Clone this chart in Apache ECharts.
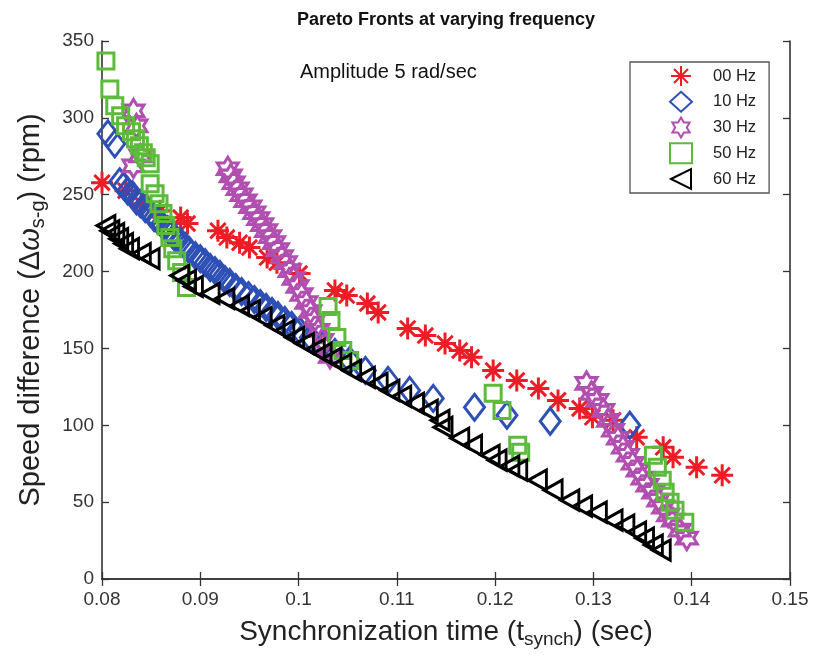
<!DOCTYPE html>
<html>
<head>
<meta charset="utf-8">
<script src="https://cdn.jsdelivr.net/npm/echarts@6/dist/echarts.min.js"></script>
<style>
html,body{margin:0;padding:0;background:#fff;}
#chart{width:813px;height:659px;}
</style>
</head>
<body>
<div id="chart"></div>
<script>
// ---- data (x = sync time in sec, y = speed difference in rpm) ----
const xTicks = [0.08, 0.09, 0.1, 0.11, 0.12, 0.13, 0.14, 0.15];
const yTicks = [0, 50, 100, 150, 200, 250, 300, 350];
const seriesNames = ['00 Hz', '10 Hz', '30 Hz', '50 Hz', '60 Hz'];

const hz00 = [
  [0.0797,290.3],[0.0800,257.8],[0.0824,252.6],[0.0840,244.2],[0.0859,239.6],[0.0880,235.1],
  [0.0887,231.2],[0.0918,226.6],[0.0927,222.1],[0.0940,218.8],[0.0950,215.6],[0.0968,209.1],
  [0.0978,205.8],[0.1001,198.7],[0.1037,187.7],[0.1049,184.4],[0.1070,179.2],[0.1081,173.4],
  [0.1111,163.0],[0.1129,158.4],[0.1149,153.2],[0.1164,148.7],[0.1176,144.2],[0.1198,135.7],
  [0.1222,129.2],[0.1244,124.0],[0.1264,116.2],[0.1286,111.0],[0.1299,105.2],[0.1320,103.2],
  [0.1344,92.2],[0.1371,85.7],[0.1381,79.2],[0.1405,72.7],[0.1431,67.5]
];
const hz10 = [
  [0.0806,289.6],[0.0813,283.1],[0.0818,258.4],[0.0822,255.8],[0.0826,252.6],[0.0831,250.0],
  [0.0835,246.1],[0.0839,244.2],[0.0844,240.9],[0.0849,238.3],[0.0853,235.1],[0.0857,233.1],
  [0.0862,229.9],[0.0867,227.3],[0.0871,224.7],[0.0875,221.4],[0.0880,219.5],[0.0885,216.2],
  [0.0889,213.6],[0.0895,210.4],[0.0900,208.4],[0.0905,205.8],[0.0910,202.6],[0.0915,200.6],
  [0.0920,198.1],[0.0925,194.8],[0.0930,192.9],[0.0936,189.6],[0.0942,187.0],[0.0949,184.4],
  [0.0955,181.8],[0.0961,179.2],[0.0967,176.6],[0.0973,174.0],[0.0979,171.4],[0.0986,168.2],
  [0.0993,164.9],[0.1001,161.7],[0.1012,157.1],[0.1024,151.9],[0.1037,147.4],[0.1052,142.2],
  [0.1068,135.7],[0.1091,129.2],[0.1113,122.7],[0.1137,117.5],[0.1179,111.7],[0.1212,106.5],
  [0.1256,102.6],[0.1337,100.0]
];
const hz30 = [
  [0.0832,304.5],[0.0835,294.8],[0.0839,275.3],[0.0832,268.8],
  [0.0928,266.9],[0.0931,262.3],[0.0934,257.8],[0.0938,253.9],[0.0942,250.0],[0.0946,246.1],
  [0.0951,242.2],[0.0955,238.3],[0.0959,234.4],[0.0963,230.5],[0.0967,226.6],[0.0971,222.7],
  [0.0975,218.8],[0.0979,214.3],[0.0983,209.7],[0.0987,205.8],[0.0991,200.6],[0.0995,195.5],
  [0.0999,190.3],[0.1003,185.1],[0.1008,179.9],[0.1012,174.0],[0.1016,168.2],[0.1020,161.7],
  [0.1024,155.2],[0.1028,150.0],[0.1032,144.8],
  [0.1293,127.3],[0.1298,120.8],[0.1304,116.2],[0.1310,109.7],[0.1315,103.2],[0.1320,96.8],
  [0.1325,91.6],[0.1330,85.7],[0.1335,80.5],[0.1340,75.3],[0.1345,70.8],[0.1350,65.6],
  [0.1355,61.0],[0.1361,56.5],[0.1366,51.3],[0.1371,46.8],[0.1376,41.6],[0.1381,38.3],
  [0.1388,31.8],[0.1395,26.6]
];
const hz50 = [
  [0.0804,337.0],[0.0808,318.8],[0.0813,307.8],[0.0819,301.3],[0.0824,294.8],[0.0830,290.9],
  [0.0834,286.4],[0.0838,281.8],[0.0842,277.3],[0.0845,274.0],[0.0849,270.1],[0.0849,257.1],
  [0.0854,250.6],[0.0858,244.2],[0.0862,237.7],[0.0865,229.9],[0.0869,222.1],[0.0872,214.9],
  [0.0876,207.1],[0.0881,199.4],[0.0886,189.6],
  [0.1030,177.3],[0.1033,168.2],[0.1039,157.1],[0.1045,148.7],[0.1052,142.2],
  [0.1198,120.8],[0.1207,109.7],[0.1223,87.0],[0.1226,82.5],
  [0.1361,80.5],[0.1365,72.7],[0.1370,64.3],[0.1373,56.5],[0.1378,50.0],[0.1383,44.8],[0.1393,37.0]
];
const hz60 = [
  [0.0799,252.6],[0.0804,229.9],[0.0808,226.6],[0.0813,224.7],[0.0817,221.4],[0.0822,218.2],
  [0.0828,214.9],[0.0840,211.7],[0.0849,208.4],[0.0879,197.4],[0.0886,194.2],[0.0893,190.3],
  [0.0910,185.7],[0.0925,182.5],[0.0940,177.9],[0.0951,174.7],[0.0963,170.1],[0.0976,164.9],
  [0.0986,161.7],[0.0996,157.1],[0.1006,153.2],[0.1017,149.4],[0.1024,146.8],[0.1034,143.5],
  [0.1044,139.6],[0.1054,135.7],[0.1068,131.2],[0.1081,127.3],[0.1093,122.7],[0.1105,118.8],
  [0.1118,114.3],[0.1132,109.7],[0.1144,103.2],[0.1147,98.7],[0.1164,91.6],[0.1177,87.0],
  [0.1195,80.5],[0.1202,77.3],[0.1215,73.4],[0.1223,70.8],[0.1243,64.3],[0.1259,57.8],
  [0.1276,51.3],[0.1289,47.4],[0.1304,43.5],[0.1320,38.3],[0.1332,35.1],[0.1344,30.5],
  [0.1352,26.6],[0.1361,22.1],[0.1369,18.8]
];

// ---- styling ----
const FONT = '"Liberation Sans", Arial, Helvetica, sans-serif';
const SYM_ASTERISK = 'path://M0,10 L20,10 M10,0 L10,20 M3,3 L17,17 M17,3 L3,17';
const SYM_HEXAGRAM = 'path://M50,0 L64.4,25 L93.3,25 L78.9,50 L93.3,75 L64.4,75 L50,100 L35.6,75 L6.7,75 L21.1,50 L6.7,25 L35.6,25 Z';
const SYM_LTRI = 'path://M0,10 L20,0 L20,20 Z';

const styles = [
  {data: hz00, symbol: SYM_ASTERISK, size: [22, 22], color: '#ee1c25'},
  {data: hz10, symbol: 'diamond', size: [20, 26], color: '#2e4fb5'},
  {data: hz30, symbol: SYM_HEXAGRAM, size: [21, 23], color: '#b14fb0'},
  {data: hz50, symbol: 'rect', size: [16, 16], color: '#5dbb3c'},
  {data: hz60, symbol: SYM_LTRI, size: [18, 20], color: '#000000'}
];

const series = styles.map((s, i) => ({
  name: seriesNames[i],
  type: 'scatter',
  data: s.data,
  symbol: s.symbol,
  symbolSize: s.size,
  itemStyle: {color: 'rgba(0,0,0,0)', borderColor: s.color, borderWidth: 3, opacity: 1},
  emphasis: {disabled: true},
  xAxisIndex: 0,
  yAxisIndex: 0
}));

const chart = echarts.init(document.getElementById('chart'), null, {renderer: 'canvas'});
const axisLine = {show: true, lineStyle: {color: '#333', width: 1.6}};
const tick = {show: true, inside: true, length: 7, lineStyle: {color: '#333', width: 1.3}};
const fmtX = v => String(+(+v).toFixed(2));

chart.setOption({
  animation: false,
  backgroundColor: '#ffffff',
  title: {
    text: 'Pareto Fronts at varying frequency',
    left: 441, textAlign: 'center', top: 6,
    textStyle: {fontFamily: FONT, fontSize: 18, fontWeight: 'bold', color: '#111'}
  },
  grid: {left: 102, top: 41, right: 23, bottom: 80, containLabel: false},
  legend: {
    orient: 'vertical',
    left: 630, top: 62,
    padding: [3, 13, 3, 39],
    itemWidth: 22, itemHeight: 20, itemGap: 3.75,
    borderColor: '#555', borderWidth: 1.3,
    backgroundColor: '#fff',
    textStyle: {fontFamily: FONT, fontSize: 16.5, color: '#222', padding: [0, 0, 0, 16]},
    data: seriesNames
  },
  graphic: [{
    type: 'text', left: 300, top: 62,
    style: {text: 'Amplitude 5 rad/sec', font: '20px ' + FONT, fill: '#111'}
  }],
  xAxis: [{
    type: 'value', min: 0.08, max: 0.15, interval: 0.01,
    axisLine: axisLine, axisTick: tick, splitLine: {show: false},
    axisLabel: {formatter: fmtX, fontFamily: FONT, fontSize: 19, color: '#333', margin: 11},
    name: '{a|Synchronization time (t}{s|synch}{a|) (sec)}',
    nameLocation: 'middle', nameGap: 36,
    nameTextStyle: {
      rich: {
        a: {fontFamily: FONT, fontSize: 28, color: '#222', lineHeight: 34},
        s: {fontFamily: FONT, fontSize: 19, color: '#222', lineHeight: 34, verticalAlign: 'bottom', padding: [12, 0, 0, 0]}
      }
    }
  }, {
    type: 'value', min: 0.08, max: 0.15, interval: 0.01, position: 'top',
    axisLine: axisLine, axisTick: tick, axisLabel: {show: false}, splitLine: {show: false}
  }],
  yAxis: [{
    type: 'value', min: 0, max: 350, interval: 50,
    axisLine: axisLine, axisTick: tick, splitLine: {show: false},
    axisLabel: {fontFamily: FONT, fontSize: 19, color: '#333', margin: 8},
    name: '{a|Speed difference (Δ}{w|ω}{s|s-g}{a|) (rpm)}',
    nameLocation: 'middle', nameGap: 54, nameRotate: 90,
    nameTextStyle: {
      rich: {
        a: {fontFamily: FONT, fontSize: 29, color: '#222', lineHeight: 34},
        w: {fontFamily: FONT, fontSize: 29, fontStyle: 'italic', color: '#222', lineHeight: 34},
        s: {fontFamily: FONT, fontSize: 20, color: '#222', lineHeight: 34, verticalAlign: 'bottom', padding: [12, 0, 0, 0]}
      }
    }
  }, {
    type: 'value', min: 0, max: 350, interval: 50, position: 'right',
    axisLine: axisLine, axisTick: tick, axisLabel: {show: false}, splitLine: {show: false}
  }],
  series: series
});
</script>
</body>
</html>
